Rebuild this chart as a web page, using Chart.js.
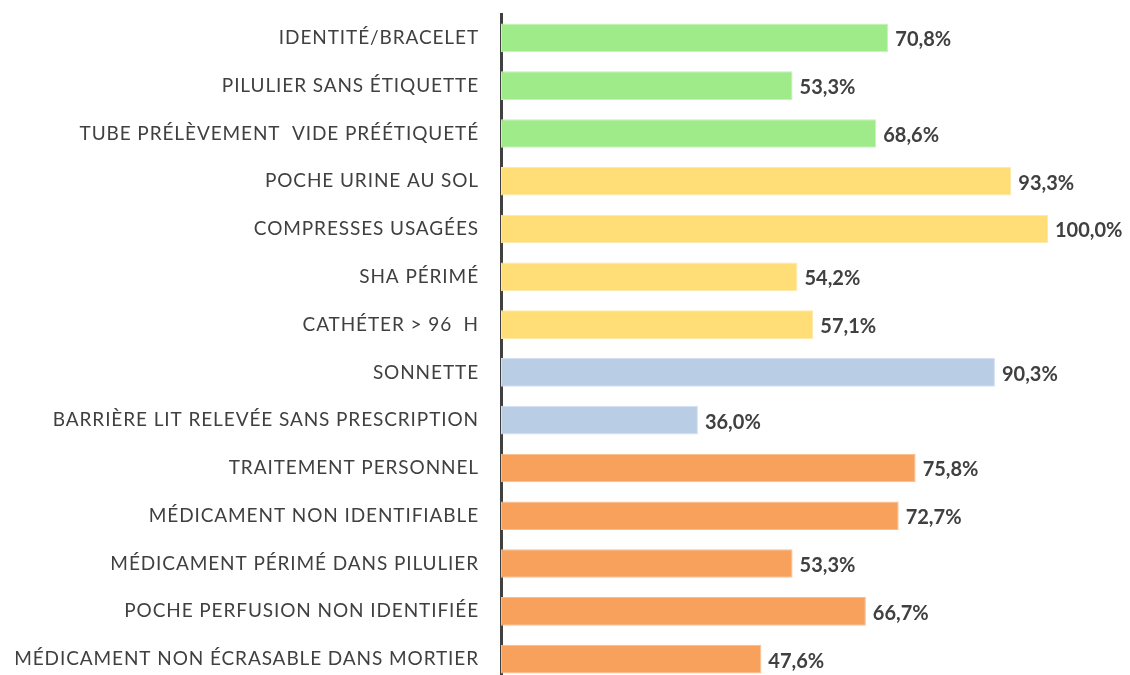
<!DOCTYPE html>
<html>
<head>
<meta charset="utf-8">
<script src="https://cdn.jsdelivr.net/npm/chart.js@4"></script>
<style>
  html, body { margin: 0; padding: 0; background: #fff; overflow: hidden; }
  canvas { display: block; }
</style>
</head>
<body>
<canvas id="barChart" width="1130" height="683"></canvas>
<script>
const categories = [
    'IDENTITÉ/BRACELET',
    'PILULIER SANS ÉTIQUETTE',
    'TUBE PRÉLÈVEMENT  VIDE PRÉÉTIQUETÉ',
    'POCHE URINE AU SOL',
    'COMPRESSES USAGÉES',
    'SHA PÉRIMÉ',
    'CATHÉTER > 96  H',
    'SONNETTE',
    'BARRIÈRE LIT RELEVÉE SANS PRESCRIPTION',
    'TRAITEMENT PERSONNEL',
    'MÉDICAMENT NON IDENTIFIABLE',
    'MÉDICAMENT PÉRIMÉ DANS PILULIER',
    'POCHE PERFUSION NON IDENTIFIÉE',
    'MÉDICAMENT NON ÉCRASABLE DANS MORTIER'
];
const values = [70.8, 53.3, 68.6, 93.3, 100.0, 54.2, 57.1, 90.3, 36.0, 75.8, 72.7, 53.3, 66.7, 47.6];
const groups = ['g', 'g', 'g', 'y', 'y', 'y', 'y', 'b', 'b', 'o', 'o', 'o', 'o', 'o'];

const fill = { g: '#9FEB8A', y: '#FFDD77', b: '#B9CDE5', o: '#F7A15C' };
const edge = { g: '#C4F3B7', y: '#FFE9A8', b: '#D3E0F0', o: '#F9BE8C' };

// Calibri-like wide caps: Lato with a little tracking
const spacing = {
    id: 'spacing',
    beforeUpdate(chart) { chart.ctx.letterSpacing = '0.9px'; },
    beforeDraw(chart) { chart.ctx.letterSpacing = '0.9px'; }
};

const valueLabels = {
    id: 'valueLabels',
    afterDatasetsDraw(chart) {
        const ctx = chart.ctx;
        const meta = chart.getDatasetMeta(0);
        ctx.save();
        ctx.letterSpacing = '0px';
        ctx.font = 'bold 20px Lato';
        ctx.fillStyle = '#404040';
        ctx.textAlign = 'left';
        ctx.textBaseline = 'middle';
        meta.data.forEach((bar, i) => {
            const txt = values[i].toFixed(1).replace('.', ',') + '%';
            ctx.fillText(txt, bar.x + 7, bar.y + 2);
        });
        ctx.restore();
    }
};

const ctx1 = document.getElementById('barChart');
new Chart(ctx1, {
    type: 'bar',
    data: {
        labels: categories,
        datasets: [{
            data: values,
            backgroundColor: groups.map(g => fill[g]),
            borderColor: groups.map(g => edge[g]),
            borderWidth: 1,
            borderSkipped: false,
            categoryPercentage: 0.6,
            barPercentage: 1.0
        }]
    },
    options: {
        indexAxis: 'y',
        responsive: false,
        animation: false,
        layout: { padding: { top: 14, right: 82, left: 0, bottom: 0 } },
        plugins: {
            legend: { display: false },
            tooltip: { enabled: false }
        },
        scales: {
            x: {
                min: 0,
                max: 100,
                display: false
            },
            y: {
                grid: { display: false, drawTicks: false },
                border: { display: true, color: '#404040', width: 3 },
                ticks: {
                    color: '#404040',
                    font: { family: 'Lato', size: 19 },
                    padding: 22
                },
                afterFit(scale) {
                    scale.width = 501;
                    scale.paddingTop = 0;
                    scale.paddingBottom = 0;
                }
            }
        }
    },
    plugins: [spacing, valueLabels]
});
</script>
</body>
</html>
